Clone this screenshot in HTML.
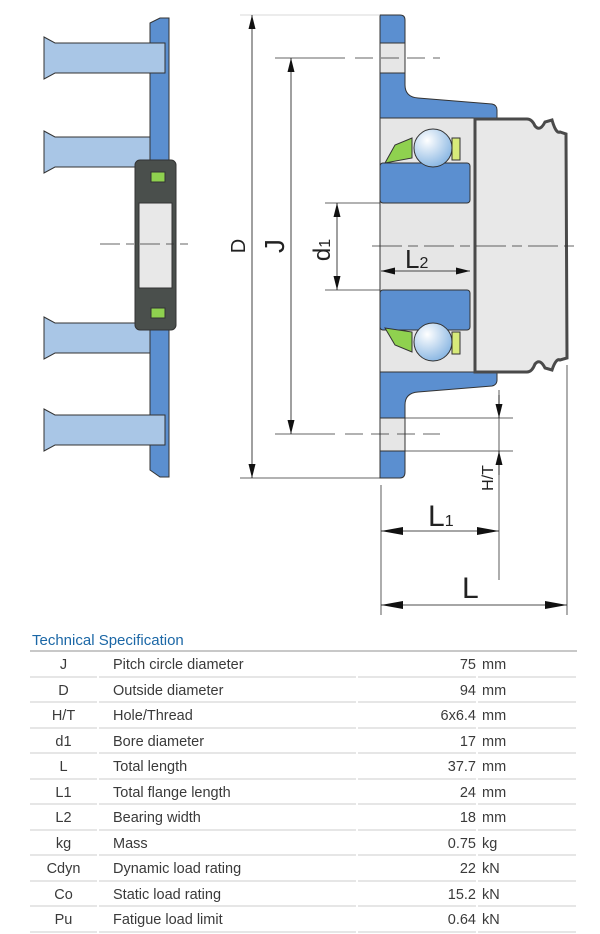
<!DOCTYPE html>
<html><head><meta charset="utf-8"><style>
body{margin:0;width:600px;height:934px;background:#fff;overflow:hidden;font-family:"Liberation Sans",sans-serif;}
svg{position:absolute;left:0;top:0}
.hd{position:absolute;left:32px;top:632px;font-size:15px;color:#1b67a6;}
.hl{position:absolute;left:30px;top:650px;width:547px;height:2px;background:#c8c8c8;}
.tb{position:absolute;left:30px;top:652px;width:547px;font-size:14.5px;color:#3a3a3a}
.r{display:flex;height:25.5px;}
.r div{height:23.5px;border-bottom:2px solid #e6e6e6;line-height:26px;white-space:nowrap;overflow:visible}
.s{width:67px;text-align:center;margin-right:2px}
.d{width:243px;padding-left:14px;margin-right:2px}
.v{width:118px;text-align:right;margin-right:2px}
.u{width:94px;padding-left:4px}
</style></head><body>
<svg width="600" height="630" viewBox="0 0 600 630">
<defs>
<radialGradient id="bg" cx="0.35" cy="0.3" r="0.8"><stop offset="0" stop-color="#ffffff"/><stop offset="1" stop-color="#7fb0e0"/></radialGradient>
<marker id="a" viewBox="0 0 10 10" refX="10" refY="5" markerWidth="14" markerHeight="14" markerUnits="userSpaceOnUse" orient="auto-start-reverse"><path d="M0,2.5 L10,5 L0,7.5 Z" fill="#111"/></marker>
<marker id="b" viewBox="0 0 10 10" refX="10" refY="5" markerWidth="22" markerHeight="22" markerUnits="userSpaceOnUse" orient="auto-start-reverse"><path d="M0,3.2 L10,5 L0,6.8 Z" fill="#111"/></marker>
</defs>
<g stroke="#333" stroke-width="1">
<path d="M150,23 L160,18 L169,18 L169,477 L160,477 L150,470 Z" fill="#5b8fd0"/>
<g fill="#a9c6e6">
<path d="M44,37 L55,43 L165,43 L165,73 L55,73 L44,79 Z"/>
<path d="M44,131 L55,137 L150,137 L150,167 L55,167 L44,173 Z"/>
<path d="M44,317 L55,323 L150,323 L150,353 L55,353 L44,359 Z"/>
<path d="M44,409 L55,415 L165,415 L165,445 L55,445 L44,451 Z"/>
</g>
<rect x="135" y="160" width="41" height="170" rx="5" fill="#4a4f4c"/>
<rect x="139" y="203" width="33" height="85" fill="#e8e8e8"/>
<rect x="151" y="172" width="14" height="10" fill="#8fd14f"/>
<rect x="151" y="308" width="14" height="10" fill="#8fd14f"/>
</g>
<line x1="100" y1="244" x2="188" y2="244" stroke="#333" stroke-width="0.8" stroke-dasharray="20,6,8,6"/>
<g stroke="#333" stroke-width="1">
<path d="M380,15 L400,15 Q405,15 405,20 L405,85 Q405,97 418,98 L492,104 Q497,105 497,110 L497,128 L475,128 L475,118 L380,118 Z" fill="#5b8fd0"/>
<path d="M380,372 L475,372 L475,362 L497,362 L497,380 Q497,385 492,386 L418,392 Q405,393 405,405 L405,472 Q405,478 400,478 L380,478 Z" fill="#5b8fd0"/>
<rect x="380" y="43" width="25" height="30" fill="#e6e6e6"/>
<rect x="380" y="418" width="25" height="33" fill="#e6e6e6"/>
<path d="M380,118 L475,118 L475,372 L380,372 Z" fill="#e6e6e6"/>
<rect x="380" y="163" width="90" height="40" rx="3" fill="#5b8fd0"/>
<rect x="380" y="290" width="90" height="40" rx="3" fill="#5b8fd0"/>
<path d="M475,119 L527,119 Q532,119 535,126 Q540,132 545,122 L552,120 Q556,134 560,132 L566,134 L567,358 L560,360 Q556,358 552,370 L545,368 Q540,358 535,364 Q532,372 527,372 L475,372 Z" fill="#e8e8e8" stroke="#4a4a4a" stroke-width="3"/>
<path d="M385,163 L395,145 L412,138 L412,158 Z M385,328 L395,345 L412,352 L412,332 Z" fill="#8fd14f"/>
<rect x="452" y="138" width="8" height="22" fill="#d7ea7a"/>
<rect x="452" y="332" width="8" height="22" fill="#d7ea7a"/>
<circle cx="433" cy="148" r="19" fill="url(#bg)"/>
<circle cx="433" cy="342" r="19" fill="url(#bg)"/>
</g>
<g stroke="#333" stroke-width="0.8" fill="none">
<line x1="372" y1="246" x2="575" y2="246" stroke-dasharray="30,6,10,6"/>
<line x1="275" y1="58" x2="345" y2="58"/><line x1="355" y1="58" x2="440" y2="58" stroke-dasharray="18,8"/>
<line x1="275" y1="434" x2="335" y2="434"/><line x1="345" y1="434" x2="440" y2="434" stroke-dasharray="18,8"/>
<line x1="240" y1="15" x2="380" y2="15" stroke="#ccc"/>
<line x1="240" y1="478" x2="380" y2="478"/>
<line x1="325" y1="203" x2="380" y2="203"/>
<line x1="325" y1="290" x2="380" y2="290"/>
<line x1="405" y1="418" x2="513" y2="418"/>
<line x1="405" y1="451" x2="513" y2="451"/>
<line x1="381" y1="485" x2="381" y2="615"/>
<line x1="567" y1="365" x2="567" y2="615"/>
<line x1="499" y1="390" x2="499" y2="580"/>
<line x1="252" y1="15" x2="252" y2="478" stroke="#111" marker-start="url(#a)" marker-end="url(#a)"/>
<line x1="291" y1="58" x2="291" y2="434" stroke="#111" marker-start="url(#a)" marker-end="url(#a)"/>
<line x1="337" y1="203" x2="337" y2="290" stroke="#111" marker-start="url(#a)" marker-end="url(#a)"/>
<line x1="381" y1="271" x2="470" y2="271" stroke="#111" marker-start="url(#a)" marker-end="url(#a)"/>
<line x1="381" y1="531" x2="499" y2="531" stroke="#111" marker-start="url(#b)" marker-end="url(#b)"/>
<line x1="381" y1="605" x2="567" y2="605" stroke="#111" marker-start="url(#b)" marker-end="url(#b)"/>
<line x1="499" y1="395" x2="499" y2="418" stroke="#111" marker-end="url(#a)"/>
<line x1="499" y1="475" x2="499" y2="451" stroke="#111" marker-end="url(#a)"/>
</g>
<g font-family="Liberation Sans, sans-serif" fill="#222">
<text transform="translate(245,246) rotate(-90)" font-size="20" text-anchor="middle">D</text>
<text transform="translate(284,246) rotate(-90)" font-size="28" text-anchor="middle">J</text>
<text transform="translate(330,250) rotate(-90)" font-size="24" text-anchor="middle">d<tspan font-size="16">1</tspan></text>
<text x="405" y="268" font-size="26">L<tspan font-size="16">2</tspan></text>
<text x="428" y="526" font-size="30">L<tspan font-size="16">1</tspan></text>
<text x="462" y="598" font-size="30">L</text>
<text transform="translate(493,478) rotate(-90)" font-size="16" text-anchor="middle">H/T</text>
</g>
</svg>
<div class="hd">Technical Specification</div>
<div class="hl"></div>
<div class="tb">
<div class="r"><div class="s">J</div><div class="d">Pitch circle diameter</div><div class="v">75</div><div class="u">mm</div></div>
<div class="r"><div class="s">D</div><div class="d">Outside diameter</div><div class="v">94</div><div class="u">mm</div></div>
<div class="r"><div class="s">H/T</div><div class="d">Hole/Thread</div><div class="v">6x6.4</div><div class="u">mm</div></div>
<div class="r"><div class="s">d1</div><div class="d">Bore diameter</div><div class="v">17</div><div class="u">mm</div></div>
<div class="r"><div class="s">L</div><div class="d">Total length</div><div class="v">37.7</div><div class="u">mm</div></div>
<div class="r"><div class="s">L1</div><div class="d">Total flange length</div><div class="v">24</div><div class="u">mm</div></div>
<div class="r"><div class="s">L2</div><div class="d">Bearing width</div><div class="v">18</div><div class="u">mm</div></div>
<div class="r"><div class="s">kg</div><div class="d">Mass</div><div class="v">0.75</div><div class="u">kg</div></div>
<div class="r"><div class="s">Cdyn</div><div class="d">Dynamic load rating</div><div class="v">22</div><div class="u">kN</div></div>
<div class="r"><div class="s">Co</div><div class="d">Static load rating</div><div class="v">15.2</div><div class="u">kN</div></div>
<div class="r"><div class="s">Pu</div><div class="d">Fatigue load limit</div><div class="v">0.64</div><div class="u">kN</div></div>
</div>
</body></html>
